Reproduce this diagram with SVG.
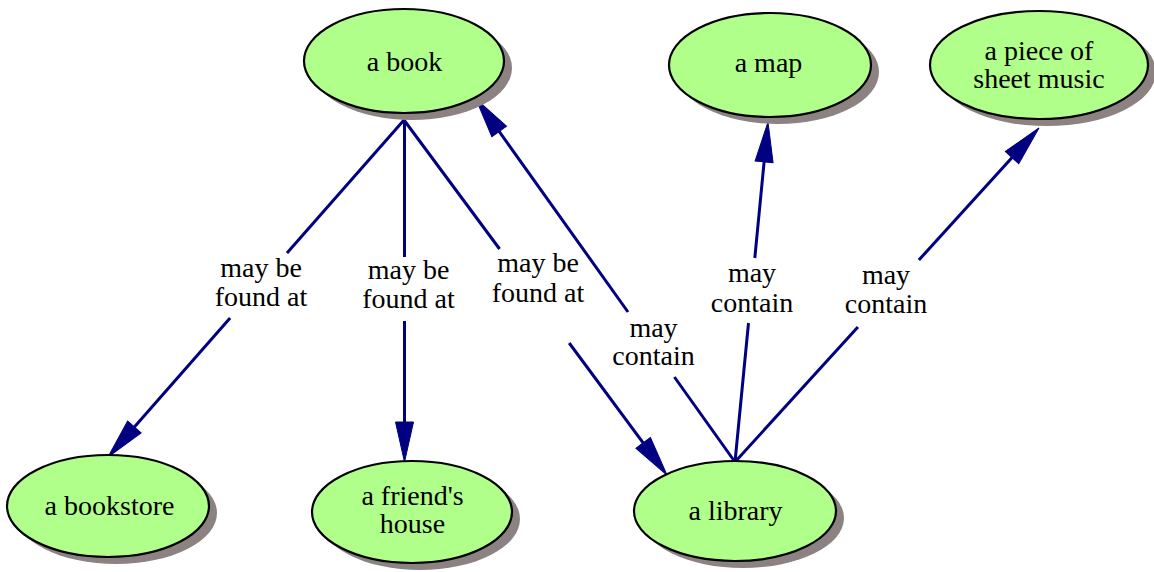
<svg xmlns="http://www.w3.org/2000/svg" width="1154" height="572" viewBox="0 0 1154 572">
<style>
.shadow{fill:#8c8282;stroke:none}
.node{fill:#b0ff8a;stroke:#000;stroke-width:2.2}
.t{font-family:"Liberation Serif","Times New Roman",serif;font-size:28px;fill:#000;text-anchor:middle}
.edge{fill:none;stroke:#000080;stroke-width:3}
</style>
<defs>
<marker id="arr" markerUnits="userSpaceOnUse" markerWidth="44" markerHeight="22" refX="32" refY="0" orient="auto" overflow="visible">
<path d="M0,-9 L40,0 L0,9 Z" fill="#000080" stroke="#000080" stroke-width="1"/>
</marker>
</defs>
<rect width="1154" height="572" fill="#fff"/>
<g id="connectors">
<path class="edge" d="M404,120 L287,253 M230.1,318 L113.3,451" marker-end="url(#arr)"/>
<path class="edge" d="M404.5,120 L404.5,257 M404.5,321 L404.5,454" marker-end="url(#arr)"/>
<path class="edge" d="M404,120 L499.6,249 M569.2,343 L662.2,468.6" marker-end="url(#arr)"/>
<path class="edge" d="M735,462 L674.4,377 M628,312 L480.6,105.5" marker-end="url(#arr)"/>
<path class="edge" d="M735,462 L748.5,323 M754.8,258 L767.2,130" marker-end="url(#arr)"/>
<path class="edge" d="M735,462 L857.9,327 M918.9,260 L1033.6,133.9" marker-end="url(#arr)"/>
<text class="t" x="261" y="277">may be</text>
<text class="t" x="261" y="306">found at</text>
<text class="t" x="408.5" y="279">may be</text>
<text class="t" x="408.5" y="308">found at</text>
<text class="t" x="538" y="272">may be</text>
<text class="t" x="538" y="302">found at</text>
<text class="t" x="653.5" y="337">may</text>
<text class="t" x="653.5" y="365">contain</text>
<text class="t" x="752" y="282">may</text>
<text class="t" x="752" y="312">contain</text>
<text class="t" x="886" y="284">may</text>
<text class="t" x="886" y="313">contain</text>
</g>
<g id="book">
<ellipse class="shadow" cx="412" cy="68" rx="100" ry="52"/>
<ellipse class="node" cx="404" cy="61" rx="100" ry="52"/>
<text class="t" x="404.5" y="71">a book</text>
</g>
<g id="map">
<ellipse class="shadow" cx="778" cy="72" rx="101" ry="52"/>
<ellipse class="node" cx="770" cy="65" rx="101" ry="52"/>
<text class="t" x="768.5" y="72">a map</text>
</g>
<g id="sheet_music">
<ellipse class="shadow" cx="1047" cy="72" rx="109" ry="54"/>
<ellipse class="node" cx="1039" cy="65" rx="109" ry="54"/>
<text class="t" x="1039" y="60">a piece of</text>
<text class="t" x="1039" y="88">sheet music</text>
</g>
<g id="bookstore">
<ellipse class="shadow" cx="116" cy="513" rx="101" ry="51"/>
<ellipse class="node" cx="108" cy="506" rx="101" ry="51"/>
<text class="t" x="109.5" y="515">a bookstore</text>
</g>
<g id="friends_house">
<ellipse class="shadow" cx="420" cy="519" rx="100" ry="51"/>
<ellipse class="node" cx="412" cy="512" rx="100" ry="51"/>
<text class="t" x="412.5" y="505">a friend's</text>
<text class="t" x="412.5" y="533">house</text>
</g>
<g id="library">
<ellipse class="shadow" cx="743" cy="518" rx="101" ry="50"/>
<ellipse class="node" cx="735" cy="511" rx="101" ry="50"/>
<text class="t" x="735.5" y="520">a library</text>
</g>
</svg>
